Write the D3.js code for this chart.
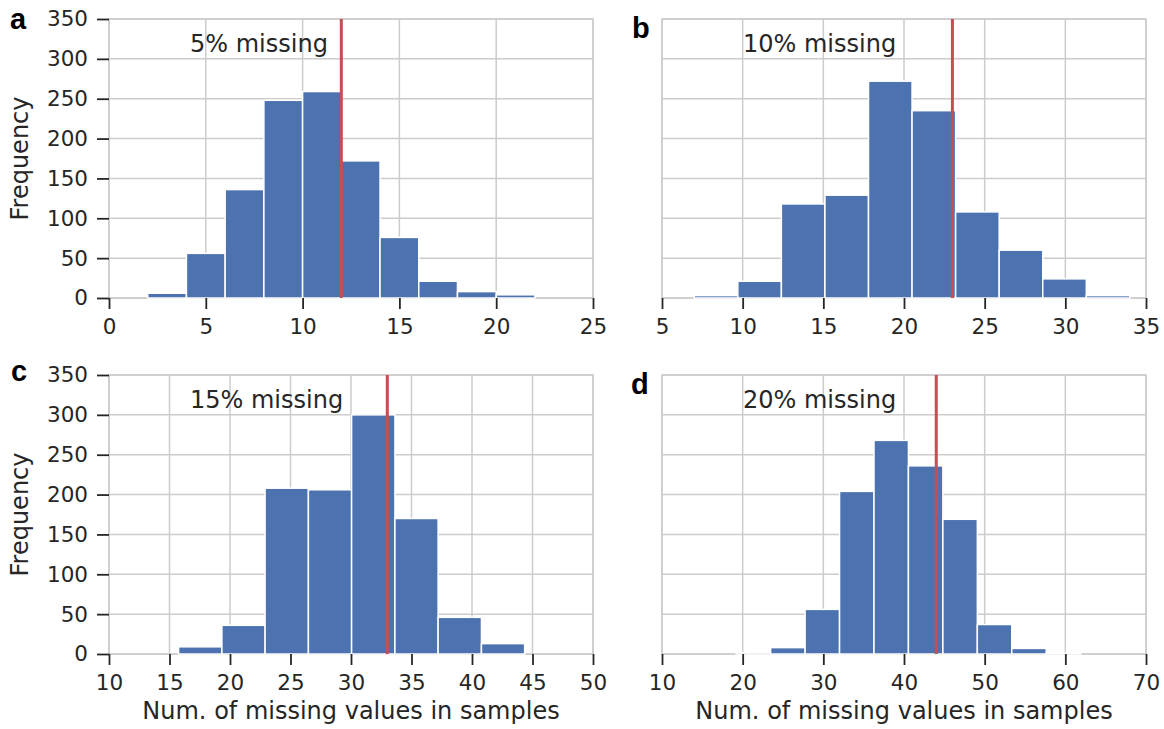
<!DOCTYPE html>
<html>
<head>
<meta charset="utf-8">
<script src="https://cdn.jsdelivr.net/npm/d3@7"></script>
<style>
  html, body { margin: 0; padding: 0; background: #fff; }
  svg { display: block; }
</style>
</head>
<body>
<svg id="chart" width="1164" height="729"></svg>
<script>
// ---------------- data ----------------
const panelLetters = ["a", "b", "c", "d"];
const annotations = ["5% missing", "10% missing", "15% missing", "20% missing"];

const edgesA = [2, 4, 6, 8, 10, 12, 14, 16, 18, 20, 22];
const countsA = [6, 56, 136, 248, 259, 172, 76, 21, 8, 4];

const edgesB = [7, 9.7, 12.4, 15.1, 17.8, 20.5, 23.2, 25.9, 28.6, 31.3, 34];
const countsB = [3, 21, 118, 129, 272, 235, 108, 60, 24, 3];

const edgesC = [15.75, 19.33, 22.9, 26.48, 30.05, 33.63, 37.2, 40.78, 44.35];
const countsC = [9, 36, 208, 206, 300, 170, 46, 13];

const edgesD = [19.2, 23.47, 27.74, 32.01, 36.28, 40.55, 44.82, 49.09, 53.36, 57.63, 61.9];
const countsD = [2, 8, 56, 204, 268, 236, 169, 37, 7, 1];

const redLines = [12, 23, 33, 44];

const xDomains = [[0, 25], [5, 35], [10, 50], [10, 70]];
const xTicksA = [0, 5, 10, 15, 20, 25];
const xTicksB = [5, 10, 15, 20, 25, 30, 35];
const xTicksC = [10, 15, 20, 25, 30, 35, 40, 45, 50];
const xTicksD = [10, 20, 30, 40, 50, 60, 70];
const yTicks = [0, 50, 100, 150, 200, 250, 300, 350];
const yDomain = [0, 350];

const yLabel = "Frequency";
const xLabel = "Num. of missing values in samples";

// ---------------- layout ----------------
const panelW = 484, panelH = 279;
const lefts = [109, 662, 109, 662];
const tops = [19, 19, 375, 375];
const showY = [true, false, true, false];
const showXLabel = [false, false, true, true];
const letterPos = [[10, 29], [632, 38], [11, 381], [631, 394]];

const edgesAll = [edgesA, edgesB, edgesC, edgesD];
const countsAll = [countsA, countsB, countsC, countsD];
const xTicksAll = [xTicksA, xTicksB, xTicksC, xTicksD];

const FONT = "DejaVu Sans, sans-serif";
const TXT = "#262626";
const GRID = "#cccccc";
const BAR = "#4c72b0";
const RED = "#c44e52";

const svg = d3.select("#chart");

for (let p = 0; p < 4; p++) {
  const g = svg.append("g").attr("transform", `translate(${lefts[p]},${tops[p]})`);
  const x = d3.scaleLinear().domain(xDomains[p]).range([0, panelW]);
  const y = d3.scaleLinear().domain(yDomain).range([panelH, 0]);

  // grid
  g.append("g").selectAll("line.vg").data(xTicksAll[p]).join("line")
    .attr("x1", d => x(d)).attr("x2", d => x(d))
    .attr("y1", 0).attr("y2", panelH)
    .attr("stroke", GRID).attr("stroke-width", 1.5);
  g.append("g").selectAll("line.hg").data(yTicks).join("line")
    .attr("x1", 0).attr("x2", panelW)
    .attr("y1", d => y(d)).attr("y2", d => y(d))
    .attr("stroke", GRID).attr("stroke-width", 1.5);

  // frame
  g.append("rect").attr("x", 0).attr("y", 0).attr("width", panelW).attr("height", panelH)
    .attr("fill", "none").attr("stroke", GRID).attr("stroke-width", 1.5);

  // bars
  const edges = edgesAll[p];
  const bins = countsAll[p].map((c, i) => ({ x0: edges[i], x1: edges[i + 1], c }));
  g.append("g").selectAll("rect").data(bins).join("rect")
    .attr("x", d => x(d.x0))
    .attr("width", d => x(d.x1) - x(d.x0))
    .attr("y", d => y(d.c))
    .attr("height", d => y(0) - y(d.c))
    .attr("fill", BAR)
    .attr("stroke", "#ffffff").attr("stroke-width", 1.5);

  // red line
  g.append("line")
    .attr("x1", x(redLines[p])).attr("x2", x(redLines[p]))
    .attr("y1", 0).attr("y2", panelH)
    .attr("stroke", RED).attr("stroke-width", 3);

  // x axis
  const xa = g.append("g").attr("transform", `translate(0,${panelH})`)
    .call(d3.axisBottom(x).tickValues(xTicksAll[p]).tickSize(11).tickPadding(10).tickFormat(d3.format("d")));
  xa.select(".domain").remove();
  xa.selectAll(".tick line").attr("stroke", TXT).attr("stroke-width", 1.8);
  xa.selectAll(".tick text").attr("fill", TXT).style("font-family", FONT).style("font-size", "21.5px");

  // y axis
  if (showY[p]) {
    const ya = g.append("g")
      .call(d3.axisLeft(y).tickValues(yTicks).tickSize(12).tickPadding(9).tickFormat(d3.format("d")));
    ya.select(".domain").remove();
    ya.selectAll(".tick line").attr("stroke", TXT).attr("stroke-width", 1.8);
    ya.selectAll(".tick text").attr("fill", TXT).style("font-family", FONT).style("font-size", "21.5px");

    g.append("text")
      .attr("transform", `translate(${28 - lefts[p]},${panelH / 2}) rotate(-90)`)
      .attr("text-anchor", "middle")
      .attr("fill", TXT).style("font-family", FONT).style("font-size", "24px")
      .text(yLabel);
  }

  if (showXLabel[p]) {
    g.append("text")
      .attr("x", panelW / 2).attr("y", panelH + 65)
      .attr("text-anchor", "middle")
      .attr("fill", TXT).style("font-family", FONT).style("font-size", "24px")
      .text(xLabel);
  }

  // annotation
  g.append("text")
    .attr("x", 81).attr("y", 33)
    .attr("fill", TXT).style("font-family", FONT).style("font-size", "24px")
    .text(annotations[p]);

  // panel letter
  svg.append("text")
    .attr("x", letterPos[p][0]).attr("y", letterPos[p][1])
    .attr("fill", "#000").style("font-family", "Liberation Sans, Arial, sans-serif")
    .style("font-weight", "bold").style("font-size", "29px")
    .text(panelLetters[p]);
}
</script>
</body>
</html>
